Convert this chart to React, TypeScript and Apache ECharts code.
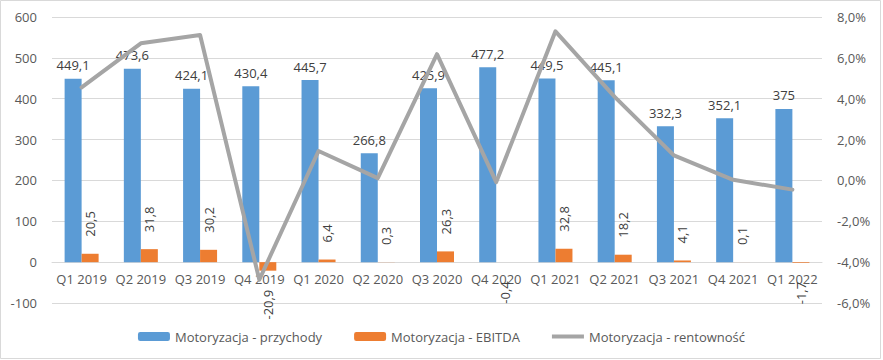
import React, { useEffect, useRef } from 'react';
import * as echarts from 'echarts';

const categories = ['Q1 2019', 'Q2 2019', 'Q3 2019', 'Q4 2019', 'Q1 2020', 'Q2 2020', 'Q3 2020', 'Q4 2020', 'Q1 2021', 'Q2 2021', 'Q3 2021', 'Q4 2021', 'Q1 2022'];
const revenue = [449.1, 473.6, 424.1, 430.4, 445.7, 266.8, 425.9, 477.2, 449.5, 445.1, 332.3, 352.1, 375];
const ebitda = [20.5, 31.8, 30.2, -20.9, 6.4, 0.3, 26.3, -0.4, 32.8, 18.2, 4.1, 0.1, -1.7];
const profitability = [4.56, 6.71, 7.12, -4.86, 1.44, 0.11, 6.18, -0.08, 7.3, 4.09, 1.23, 0.03, -0.45];

const leftAxis = { min: -100, max: 600, interval: 100 };
const rightAxis = { min: -6, max: 8, interval: 2 };

const seriesNames = ['Motoryzacja - przychody', 'Motoryzacja - EBITDA', 'Motoryzacja - rentowność'];

const fmt = (v: number) => String(v).replace('.', ',');

export default function App() {
  const ref = useRef<HTMLDivElement>(null);
  useEffect(() => {
    document.body.style.margin = '0';
    const chart = echarts.init(ref.current!, undefined, { renderer: 'svg' });
    const labelColor = '#404040';
    const axisColor = '#595959';
    const gridColor = '#D9D9D9';
    chart.setOption({
      animation: false,
      textStyle: { fontFamily: 'Open Sans' },
      graphic: [
        {
          type: 'rect',
          shape: { x: 0.5, y: 0.5, width: 880, height: 358 },
          style: { fill: 'none', stroke: gridColor, lineWidth: 1 },
          silent: true,
        },
      ],
      grid: { left: 52, right: 61, top: 17, bottom: 57, containLabel: false },
      legend: {
        top: 325,
        left: 'center',
        itemWidth: 32,
        itemHeight: 9,
        itemGap: 32,
        textStyle: { fontSize: 13, color: axisColor, fontFamily: 'Open Sans' },
        data: [
          { name: seriesNames[0] },
          { name: seriesNames[1] },
          { name: seriesNames[2], icon: 'path://M0,0L0,0M0,9L0,9M0,2.5L34,2.5L34,6.5L0,6.5Z' },
        ],
      },
      xAxis: {
        type: 'category',
        data: categories,
        offset: -41,
        axisLine: { show: true, onZero: false, lineStyle: { color: gridColor, width: 1 } },
        axisTick: { show: false },
        axisLabel: { color: axisColor, fontSize: 13, margin: 10, interval: 0 },
      },
      yAxis: [
        {
          type: 'value',
          min: leftAxis.min,
          max: leftAxis.max,
          interval: leftAxis.interval,
          axisLine: { show: false },
          axisTick: { show: false },
          axisLabel: { color: axisColor, fontSize: 13, margin: 15 },
          splitLine: { lineStyle: { color: gridColor, width: 1 } },
        },
        {
          type: 'value',
          min: rightAxis.min,
          max: rightAxis.max,
          interval: rightAxis.interval,
          axisLine: { show: false },
          axisTick: { show: false },
          axisLabel: {
            color: axisColor,
            fontSize: 13,
            margin: 15,
            formatter: (v: number) => v.toFixed(1).replace('.', ',') + '%',
          },
          splitLine: { show: false },
        },
      ],
      series: [
        {
          name: seriesNames[0],
          type: 'bar',
          data: revenue,
          barWidth: 17,
          barGap: '0%',
          itemStyle: { color: '#5B9BD5' },
          label: {
            show: true,
            position: 'top',
            distance: 7,
            color: labelColor,
            fontSize: 13,
            formatter: (p: any) => fmt(p.value),
          },
        },
        {
          name: seriesNames[1],
          type: 'bar',
          barWidth: 17,
          barGap: '0%',
          itemStyle: { color: '#ED7D31' },
          data: ebitda.map((v) => ({
            value: v,
            label:
              v >= 0
                ? { position: 'top', align: 'left', verticalAlign: 'middle', distance: 17 }
                : { position: 'bottom', align: 'right', verticalAlign: 'middle', distance: 19 },
          })),
          label: {
            show: true,
            rotate: 90,
            color: labelColor,
            fontSize: 13,
            formatter: (p: any) => fmt(p.value),
          },
        },
        {
          name: seriesNames[2],
          type: 'line',
          yAxisIndex: 1,
          data: profitability,
          symbol: 'none',
          z: 3,
          lineStyle: { color: '#A5A5A5', width: 4, join: 'round', cap: 'round' },
          itemStyle: { color: '#A5A5A5' },
        },
      ],
    });
    return () => chart.dispose();
  }, []);
  return <div ref={ref} style={{ position: 'absolute', left: 0, top: 0, width: 883, height: 360 }} />;
}
